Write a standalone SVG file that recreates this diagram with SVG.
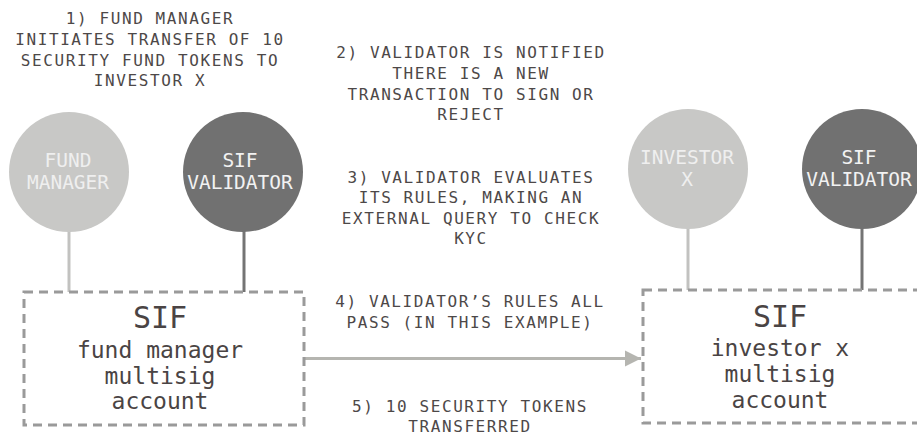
<svg xmlns="http://www.w3.org/2000/svg" width="917" height="438" viewBox="0 0 917 438">
<style>
.lbl{font-family:"DejaVu Sans Mono","Liberation Mono",monospace;font-size:16px;letter-spacing:1.6px;fill:#4d4848;text-anchor:middle}
.ct{font-family:"DejaVu Sans Mono","Liberation Mono",monospace;font-size:19.5px;text-anchor:middle}
.box{fill:#fff;stroke:#9a9a9a;stroke-width:3;stroke-dasharray:9 6}
.big{font-family:"DejaVu Sans Mono","Liberation Mono",monospace;font-size:30px;fill:#4a4444;text-anchor:middle}
.sm{font-family:"DejaVu Sans Mono","Liberation Mono",monospace;font-size:23px;fill:#4a4444;text-anchor:middle}
</style>
<defs>
<marker id="ah" viewBox="0 0 10 10" refX="10" refY="5" markerWidth="5.5" markerHeight="5.5" orient="auto" markerUnits="strokeWidth">
<path d="M0,0 L10,5 L0,10 Z" fill="#b5b5b0"/>
</marker>
</defs>
<rect width="917" height="438" fill="#fff"/>
<g id="connectors">
<line x1="69" y1="230" x2="69" y2="292" stroke="#c2c2c0" stroke-width="3"/>
<line x1="244" y1="230" x2="244" y2="292" stroke="#747474" stroke-width="3"/>
<line x1="688" y1="228" x2="688" y2="290" stroke="#c2c2c0" stroke-width="3"/>
<line x1="862" y1="228" x2="862" y2="290" stroke="#747474" stroke-width="3"/>
<line x1="304" y1="358.5" x2="641" y2="358.5" stroke="#b5b5b0" stroke-width="3" marker-end="url(#ah)"/>
</g>
<g id="fund-manager">
<circle cx="69" cy="172" r="60" fill="#c8c8c6"/>
<text class="ct" x="68" y="167" fill="#efefef">FUND</text>
<text class="ct" x="68" y="189" fill="#efefef">MANAGER</text>
</g>
<g id="sif-validator-left">
<circle cx="243" cy="172" r="60" fill="#717171"/>
<text class="ct" x="240" y="167" fill="#f2f2f2">SIF</text>
<text class="ct" x="240" y="189" fill="#f2f2f2">VALIDATOR</text>
</g>
<g id="investor-x">
<circle cx="688" cy="169" r="60" fill="#c8c8c6"/>
<text class="ct" x="687" y="164" fill="#efefef">INVESTOR</text>
<text class="ct" x="687" y="186" fill="#efefef">X</text>
</g>
<g id="sif-validator-right">
<circle cx="862" cy="169" r="60" fill="#717171"/>
<text class="ct" x="859" y="164" fill="#f2f2f2">SIF</text>
<text class="ct" x="859" y="186" fill="#f2f2f2">VALIDATOR</text>
</g>
<g id="fund-manager-account">
<rect class="box" x="24" y="292" width="280" height="133"/>
<text class="big" x="160" y="328">SIF</text>
<text class="sm" x="160" y="358">fund manager</text>
<text class="sm" x="160" y="384">multisig</text>
<text class="sm" x="160" y="409">account</text>
</g>
<g id="investor-account">
<rect class="box" x="643" y="290" width="290" height="133"/>
<text class="big" x="780" y="327">SIF</text>
<text class="sm" x="780" y="356">investor x</text>
<text class="sm" x="780" y="382">multisig</text>
<text class="sm" x="780" y="408">account</text>
</g>
<g id="step1">
<text class="lbl" x="150" y="24">1) FUND MANAGER</text>
<text class="lbl" x="150" y="45">INITIATES TRANSFER OF 10</text>
<text class="lbl" x="150" y="66">SECURITY FUND TOKENS TO</text>
<text class="lbl" x="150" y="86">INVESTOR X</text>
</g>
<g id="step2">
<text class="lbl" x="471" y="58">2) VALIDATOR IS NOTIFIED</text>
<text class="lbl" x="471" y="79">THERE IS A NEW</text>
<text class="lbl" x="471" y="100">TRANSACTION TO SIGN OR</text>
<text class="lbl" x="471" y="120">REJECT</text>
</g>
<g id="step3">
<text class="lbl" x="471" y="183">3) VALIDATOR EVALUATES</text>
<text class="lbl" x="471" y="203">ITS RULES, MAKING AN</text>
<text class="lbl" x="471" y="224">EXTERNAL QUERY TO CHECK</text>
<text class="lbl" x="471" y="244">KYC</text>
</g>
<g id="step4">
<text class="lbl" x="470" y="307">4) VALIDATOR’S RULES ALL</text>
<text class="lbl" x="470" y="328">PASS (IN THIS EXAMPLE)</text>
</g>
<g id="step5">
<text class="lbl" x="470" y="412">5) 10 SECURITY TOKENS</text>
<text class="lbl" x="470" y="432">TRANSFERRED</text>
</g>
</svg>
